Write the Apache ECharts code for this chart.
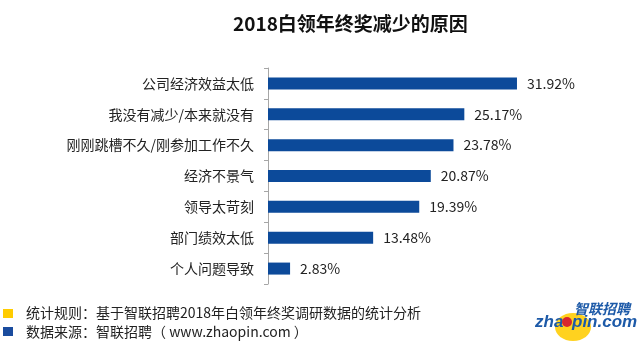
<!DOCTYPE html>
<html>
<head>
<meta charset="utf-8">
<script src="https://cdn.jsdelivr.net/npm/echarts@6/dist/echarts.min.js"></script>
<style>
  html, body { margin: 0; padding: 0; background: #fff; }
  #chart { width: 640px; height: 342px; }
</style>
</head>
<body>
<div id="chart"></div>
<script>
// Reasons for reduced year-end bonus (top to bottom)
const reasons = ['公司经济效益太低', '我没有减少/本来就没有', '刚刚跳槽不久/刚参加工作不久', '经济不景气', '领导太苛刻', '部门绩效太低', '个人问题导致'];
const shares = [31.92, 25.17, 23.78, 20.87, 19.39, 13.48, 2.83];

const titleText = '2018白领年终奖减少的原因';
const noteRule = '统计规则：基于智联招聘2018年白领年终奖调研数据的统计分析';
const noteSource = '数据来源：智联招聘（ www.zhaopin.com ）';

const font = '"Noto Sans CJK SC", "Noto Sans", sans-serif';
const barBlue = '#0C4A9A';
const brandBlue = '#1D5AA8';

const chart = echarts.init(document.getElementById('chart'), null, { renderer: 'canvas' });
chart.setOption({
  backgroundColor: '#fff',
  animation: false,
  title: {
    text: titleText,
    left: 228,
    top: 9,
    textStyle: { fontFamily: font, fontSize: 19, fontWeight: 'bold', color: '#111' }
  },
  grid: { left: 268, top: 68, width: 312, height: 216, containLabel: false },
  xAxis: {
    type: 'value', min: 0, max: 40, show: false
  },
  yAxis: {
    type: 'category',
    inverse: true,
    data: reasons,
    axisLine: { show: true, lineStyle: { color: '#A6A6A6', width: 1 } },
    axisTick: { show: true, length: 4, lineStyle: { color: '#A6A6A6' } },
    axisLabel: { margin: 14, fontFamily: font, fontSize: 14, color: '#222' }
  },
  series: [{
    type: 'bar',
    data: shares,
    barWidth: 12,
    itemStyle: { color: barBlue },
    label: {
      show: true,
      position: 'right',
      distance: 10,
      fontFamily: font,
      fontSize: 14,
      color: '#222',
      formatter: p => p.value.toFixed(2) + '%'
    }
  }],
  graphic: [
    { type: 'rect', shape: { x: 3, y: 309, width: 10, height: 9 }, style: { fill: '#FFCC00' } },
    { type: 'rect', shape: { x: 3, y: 327, width: 10, height: 9 }, style: { fill: '#1A4C9E' } },
    { type: 'text', x: 26, y: 313, style: { text: noteRule, font: '14px ' + font, fill: '#222', verticalAlign: 'middle' } },
    { type: 'text', x: 26, y: 332, style: { text: noteSource, font: '14px ' + font, fill: '#222', verticalAlign: 'middle' } },
    // brand mark
    { type: 'ellipse', shape: { cx: 573, cy: 327, rx: 18, ry: 14 }, style: { fill: '#FFD21F' } },
    { type: 'text', x: 630, y: 309, style: { text: '智联招聘', font: 'italic bold 14px ' + font, fill: brandBlue, align: 'right', verticalAlign: 'middle' } },
    { type: 'text', x: 535, y: 322, style: { text: 'zha', font: 'italic bold 17px "Liberation Sans", Arial, sans-serif', fill: brandBlue, verticalAlign: 'middle' } },
    { type: 'circle', shape: { cx: 567, cy: 322, r: 5 }, style: { fill: '#D8262E' } },
    { type: 'text', x: 572, y: 322, style: { text: 'pin.com', font: 'italic bold 17px "Liberation Sans", Arial, sans-serif', fill: brandBlue, verticalAlign: 'middle' } }
  ]
});
</script>
</body>
</html>
